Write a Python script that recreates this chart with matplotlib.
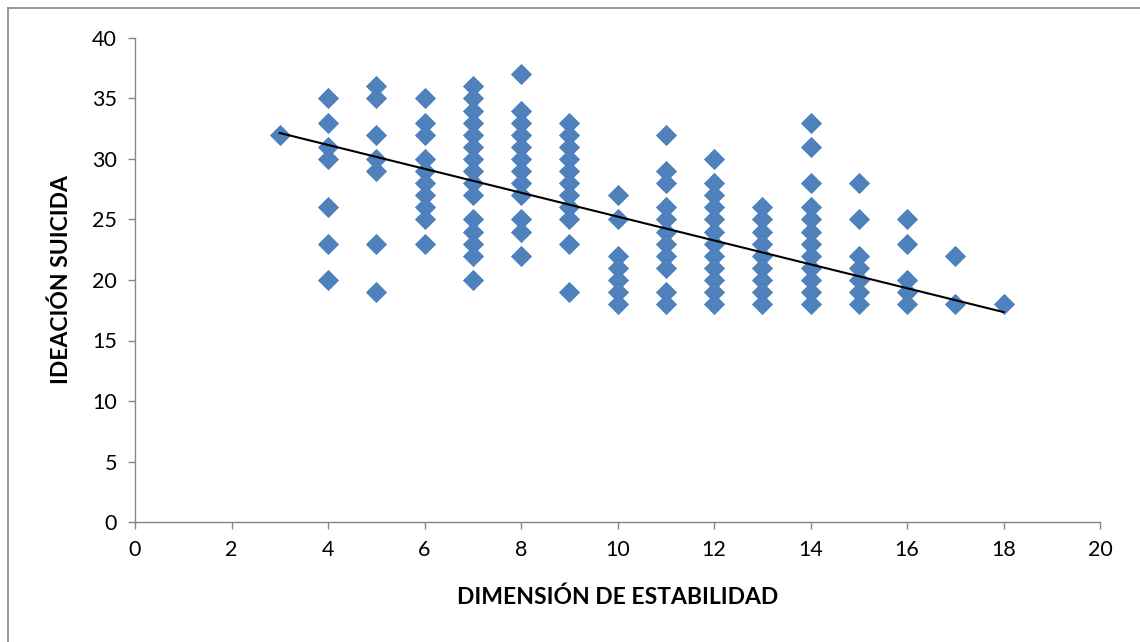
import matplotlib
matplotlib.use("Agg")
import matplotlib.pyplot as plt
from matplotlib.lines import Line2D

plt.rcParams['font.family'] = ['Lato', 'DejaVu Sans']

# Data: ideation score values observed for each stability-dimension value
x_values = [3, 4, 5, 6, 7, 8, 9, 10, 11, 12, 13, 14, 15, 16, 17, 18]
y_by_x = {
    3: [32],
    4: [35, 33, 31, 30, 26, 23, 20],
    5: [36, 35, 32, 30, 29, 23, 19],
    6: [35, 33, 32, 30, 29, 28, 27, 26, 25, 23],
    7: [36, 35, 34, 33, 32, 31, 30, 29, 28, 27, 25, 24, 23, 22, 20],
    8: [37, 34, 33, 32, 31, 30, 29, 28, 27, 25, 24, 22],
    9: [33, 32, 31, 30, 29, 28, 27, 26, 25, 23, 19],
    10: [27, 25, 22, 21, 20, 19, 18],
    11: [32, 29, 28, 26, 25, 24, 23, 22, 21, 19, 18],
    12: [30, 28, 27, 26, 25, 24, 23, 22, 21, 20, 19, 18],
    13: [26, 25, 24, 23, 22, 21, 20, 19, 18],
    14: [33, 31, 28, 26, 25, 24, 23, 22, 21, 20, 19, 18],
    15: [28, 25, 22, 21, 20, 19, 18],
    16: [25, 23, 20, 19, 18],
    17: [22, 18],
    18: [18],
}
# Linear trend line
trend_slope = -0.9867
trend_intercept = 35.11
trend_x_range = [3, 18]

x_ticks = [0, 2, 4, 6, 8, 10, 12, 14, 16, 18, 20]
y_ticks = [0, 5, 10, 15, 20, 25, 30, 35, 40]
x_label = "DIMENSIÓN DE ESTABILIDAD"
y_label = "IDEACIÓN SUICIDA"

xs, ys = [], []
for xv in x_values:
    for yv in y_by_x[xv]:
        xs.append(xv)
        ys.append(yv)

fig = plt.figure(figsize=(11.4, 6.42), dpi=100)
W, H = 1140, 642
ax = fig.add_axes([135 / W, 1 - 522 / H, (1100 - 135) / W, (522 - 38) / H])

ax.plot(xs, ys, linestyle='none', marker='D', markersize=10,
        markerfacecolor='#4F81BD', markeredgecolor='#4A7EBB',
        markeredgewidth=0.6, zorder=2)

tx = trend_x_range
ty = [trend_slope * v + trend_intercept for v in tx]
ax.plot(tx, ty, color='black', linewidth=1.5, zorder=3)

ax.set_xlim(0, 20)
ax.set_ylim(0, 40)
ax.set_xticks(x_ticks)
ax.set_yticks(y_ticks)
ax.set_xticklabels([str(t) for t in x_ticks])
ax.set_yticklabels([str(t) for t in y_ticks])

for s in ['top', 'right']:
    ax.spines[s].set_visible(False)
for s in ['left', 'bottom']:
    ax.spines[s].set_color('#868686')
    ax.spines[s].set_linewidth(1.0)
ax.tick_params(axis='both', direction='out', length=5, width=1.0,
               color='#868686', labelsize=15.5, labelcolor='black')
ax.tick_params(axis='x', pad=8)
ax.tick_params(axis='y', pad=8)

ax.set_xlabel(x_label, fontsize=16.5, fontweight='bold', labelpad=19)
ax.set_ylabel(y_label, fontsize=16.5, fontweight='bold', labelpad=14)

# chart-area border (top and left visible)
fig.add_artist(Line2D([8 / W, 1.0], [1 - 8 / H, 1 - 8 / H],
                      transform=fig.transFigure, color='#868686', linewidth=1.2))
fig.add_artist(Line2D([8 / W, 8 / W], [0.0, 1 - 8 / H],
                      transform=fig.transFigure, color='#868686', linewidth=1.2))

fig.savefig("out.png", dpi=100)
